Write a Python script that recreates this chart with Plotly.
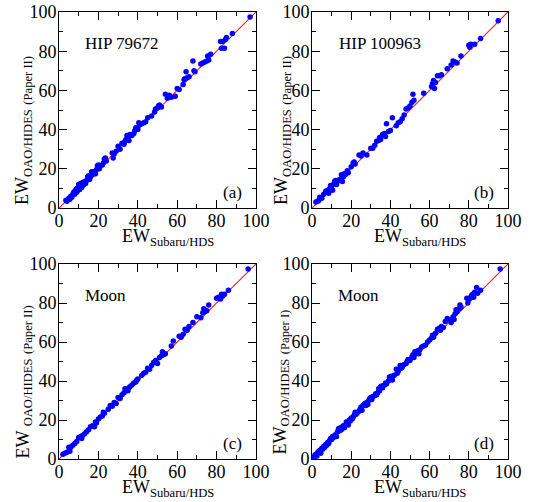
import plotly.graph_objects as go

# panel (a) HIP 79672
a_x = [3.5, 4, 5, 5.5, 6, 6.5, 7, 7.5, 8, 8, 8.5, 9, 9, 9.5, 10, 10, 10.5, 11, 11, 11.5, 12, 12, 12.5, 13,
       13.5, 14, 14.5, 15, 15, 15.5, 16, 16.5, 17, 17.5, 18, 18.5, 19, 19.5, 20, 20.5, 21, 22, 22.5, 23,
       23.5, 24, 27, 27.5, 28, 29, 30, 31, 32, 33, 33.5, 34, 34.5, 35, 35.5, 36, 37, 38, 38.5, 39, 39.5,
       40, 40.5, 41, 42, 43, 44, 45, 47, 48.5, 49, 50, 50.5, 51, 52, 54, 55, 56, 57, 59, 60, 61, 63, 63.5,
       64, 64.5, 65, 66, 68, 68.5, 69, 72, 73, 74, 75, 75.5, 76, 77, 82, 82.5, 83, 84, 84.5, 85, 88, 97]
a_y = [4, 3.5, 5, 4.5, 6, 5.5, 7, 8, 8.5, 7, 9, 10, 8, 9, 10.5, 12, 9.5, 11, 12.5, 10.5, 13, 11.5, 12, 13.5,
       12.5, 14, 16, 16.5, 15, 14.5, 16, 18.5, 17, 18.5, 18, 17.5, 19.5, 21.5, 22, 20, 21.5, 22, 23, 25,
       25.5, 24, 28, 25.5, 27.5, 29, 31.5, 30, 33, 32.5, 34, 35, 37, 36, 34.5, 37.5, 37, 38, 39.5, 41, 40.5,
       40, 43.5, 42.5, 43, 43.5, 44, 46, 47, 49, 50.5, 51, 52, 52.5, 51.5, 58, 56, 57.5, 56.5, 57, 61, 60.5,
       63, 65.5, 66, 69.5, 66.5, 67, 75, 70, 69.5, 73.5, 74, 74.5, 75, 77.5, 75.5, 78.5, 85, 81.5, 85, 81.5,
       86, 87, 89, 97.5]

# panel (b) HIP 100963
b_x = [2, 3, 3.5, 4, 5, 6, 7, 7.5, 8, 8.5, 9, 9.5, 10, 10.5, 11, 11.5, 12, 12.5, 13, 14, 15, 15.5, 16,
       16.5, 17, 18, 18.5, 20, 21, 21.5, 22, 24, 25, 26, 28, 30, 31, 32, 33, 34, 34.5, 35, 36, 37, 37.5,
       38, 39, 40, 41, 43, 44, 45, 46, 47, 48, 49, 50, 51, 51.5, 52, 57, 61, 61.5, 62, 62.5, 63, 64, 65,
       66, 69, 71, 72, 73, 74, 76, 80, 80.5, 81, 83, 86, 95]
b_y = [3, 3.5, 4, 5.5, 5, 7, 8.5, 8, 9, 7.5, 10, 11.5, 10, 9, 12, 13.5, 14, 12, 13.5, 14.5, 17, 13.5, 16,
       17.5, 17, 19, 18, 21, 23, 23.5, 22.5, 27, 26.5, 28, 27, 30.5, 30.5, 32, 34, 34.5, 36, 35, 37.5, 38,
       36.5, 43, 39, 39.5, 46, 42, 43.5, 44, 45.5, 47.5, 50.5, 51, 52, 54, 58, 55, 58.5, 62, 63.5, 65, 61,
       64, 67.5, 67.5, 68, 71, 73, 75, 74.5, 74, 77.5, 83, 82, 83.5, 83.5, 86.5, 95.5]

# panel (c) Moon vs Paper II
c_x = [2, 3, 4, 5, 5.5, 6, 7, 8, 9, 10, 11, 11.5, 12, 13, 14, 15, 16, 17, 18, 18.5, 19, 20, 21, 22, 22.5,
       23, 25, 26, 27, 28, 29, 30, 31, 32, 33, 33.5, 34, 35, 35.5, 36, 37, 38, 39, 39.5, 40, 42, 43, 44,
       45, 46, 47, 48, 49, 50, 51, 52, 52.5, 53, 54, 57, 58, 61, 62, 63, 64, 65, 66, 68, 70, 72, 73, 73.5,
       74, 75, 76, 80, 81, 82, 82.5, 83, 84, 86, 96]
c_y = [2.5, 3, 3.5, 6, 4, 6, 7, 8, 9, 11, 11.5, 10.5, 12, 13, 14, 15, 16.5, 17, 16.5, 19, 18.5, 20.5, 21.5,
       22, 24, 23.5, 25.5, 27.5, 27, 29, 28.5, 31.5, 31, 33, 34, 36, 35.5, 35, 36.5, 37, 38, 39, 39.5, 40.5,
       41, 43, 44, 44.5, 46.5, 46, 48, 49.5, 50.5, 49, 52, 53, 55, 53.5, 54, 58, 60.5, 63, 62.5, 64, 66.5,
       66, 68, 70, 73, 72.5, 75, 77, 75.5, 76, 79, 82.5, 83, 82, 84.5, 83.5, 84.5, 86.5, 97.5]

# panel (d) Moon vs Paper I
d_x = [1, 1.5, 2, 2.5, 3, 3.5, 4, 4.5, 5, 5.5, 6, 6.5, 7, 7.5, 8, 8.5, 9, 9.5, 10, 10.5, 11, 11.5, 12, 12.5,
       13, 13.5, 14, 14.5, 15, 15.5, 16, 16.5, 17, 17.5, 18, 18.5, 19, 19.5, 20, 20.5, 21, 21.5, 22, 22.5,
       23, 24, 24.5, 25, 25.5, 26, 26.5, 27, 27.5, 28, 28.5, 29, 29.5, 30, 30.5, 31, 32, 32.5, 33, 33.5, 34,
       34.5, 35, 35.5, 36, 37, 37.5, 38, 39, 39.5, 40, 40.5, 41, 42, 43, 43.5, 44, 45, 45.5, 46, 47, 48, 48.5,
       49, 50, 51, 51.5, 52, 52.5, 53, 54, 54.5, 55, 56, 57, 58, 59, 60, 61, 61.5, 62, 63, 64, 65, 65.5, 66,
       67, 68, 69, 70, 71, 72, 72.5, 73, 73.5, 74, 75, 75.5, 76, 79, 79.5, 80, 81, 81.5, 82, 82.5, 83, 84,
       84.5, 86, 96]
d_y = [1, 2, 2.5, 1.5, 3.5, 4, 4.5, 3, 5.5, 5, 6.5, 6, 7.5, 7, 8.5, 8, 9.5, 10.5, 10, 11.5, 11, 12, 12.5,
       11.5, 14, 15.5, 14.5, 16, 15, 16.5, 17, 16, 17.5, 19, 18.5, 17.5, 20, 19.5, 21, 20.5, 21.5, 22.5, 24,
       23, 23.5, 24.5, 25.5, 26.5, 25, 27.5, 28, 28.5, 27.5, 29, 28, 30, 31, 31.5, 30.5, 32, 32.5, 33.5, 33,
       34, 36, 35, 37, 37.5, 36.5, 38, 39, 38.5, 40, 42, 41.5, 42.5, 40.5, 43, 46, 44, 45, 48, 46.5, 47, 48.5,
       49, 50, 51, 50.5, 52.5, 53.5, 52, 55, 54, 55.5, 54, 56, 57.5, 58, 58.5, 60, 61, 62, 63.5, 62.5, 64.5,
       66.5, 67, 66, 68, 67.5, 70.5, 72, 71.5, 70, 73, 71.5, 74.5, 76.5, 75.5, 77, 79, 78, 82.5, 80, 82, 83,
       84, 84.5, 83, 85.5, 88, 85, 86.5, 97.5]

panels = [
    (a_x, a_y, "HIP 79672", "(a)", "EW<sub>OAO/HIDES</sub> <sub>(Paper II)</sub>"),
    (b_x, b_y, "HIP 100963", "(b)", "EW<sub>OAO/HIDES</sub> <sub>(Paper II)</sub>"),
    (c_x, c_y, "Moon", "(c)", "EW <sub>OAO/HIDES</sub> <sub>(Paper II)</sub>"),
    (d_x, d_y, "Moon", "(d)", "EW<sub>OAO/HIDES</sub> <sub>(Paper I)</sub>"),
]

W, H = 534, 502
# pixel boxes of the plot areas (left, right, top, bottom)
boxes = [(59, 256, 12, 208), (312, 508, 12, 208), (59, 256, 264, 459), (312, 508, 264, 459)]
ytitle_off = [36, 30, 35, 31]

FONT = "Liberation Serif"
fig = go.Figure()
annots = []
line_ref = [0, 100]

for i, ((xs, ys, name, tag, ylab), (l, r, t, b)) in enumerate(zip(panels, boxes)):
    n = "" if i == 0 else str(i + 1)
    xa, ya = "x" + n, "y" + n
    fig.add_trace(go.Scatter(x=line_ref, y=line_ref, mode="lines", xaxis=xa, yaxis=ya,
                             line=dict(color="#ff2020", width=1.2), showlegend=False, hoverinfo="skip"))
    fig.add_trace(go.Scatter(x=xs, y=ys, mode="markers", xaxis=xa, yaxis=ya,
                             marker=dict(color="#0000ff", size=5.5), showlegend=False))
    axis = dict(range=[0, 100], dtick=20, ticks="inside", ticklen=8, tickwidth=1, tickcolor="black",
                minor=dict(dtick=10, ticks="inside", ticklen=4, tickcolor="black"),
                showline=True, linecolor="black", linewidth=1, mirror="allticks",
                showgrid=False, zeroline=False, automargin=False,
                tickfont=dict(family=FONT, size=18, color="black"))
    fig.update_layout(**{
        "xaxis" + n: dict(axis, domain=[l / W, r / W], anchor=ya, ticklabelstandoff=-4),
        "yaxis" + n: dict(axis, domain=[1 - b / H, 1 - t / H], anchor=xa, ticklabelstandoff=-2),
    })
    annots.append(dict(x=12 if name != "HIP 100963" else 13, y=84, xref=xa, yref=ya, text=name,
                       showarrow=False, xanchor="left", yanchor="middle",
                       font=dict(family=FONT, size=17, color="black")))
    annots.append(dict(x=94, y=8, xref=xa, yref=ya, text=tag, showarrow=False,
                       xanchor="right", yanchor="middle",
                       font=dict(family=FONT, size=17, color="black")))
    # x axis title
    annots.append(dict(x=((l + r) / 2 + 10) / W, y=1 - (b + 16) / H, xref="paper", yref="paper",
                       text="EW<sub>Subaru/HDS</sub>", showarrow=False, xanchor="center", yanchor="top",
                       font=dict(family=FONT, size=18, color="black")))
    # y axis title
    annots.append(dict(x=(l - ytitle_off[i]) / W, y=1 - ((t + b) / 2 + 21) / H, xref="paper", yref="paper",
                       text=ylab, showarrow=False, textangle=-90, xanchor="center", yanchor="middle",
                       font=dict(family=FONT, size=18, color="black")))

fig.update_layout(width=W, height=H, margin=dict(l=0, r=0, t=0, b=0),
                  paper_bgcolor="white", plot_bgcolor="white", annotations=annots,
                  font=dict(family=FONT, color="black"))

# drop the default page margin so the figure sits at the window's corner
fig.write_html("out.html", config={"displayModeBar": False},
               post_script="document.body.style.margin='0px';")
